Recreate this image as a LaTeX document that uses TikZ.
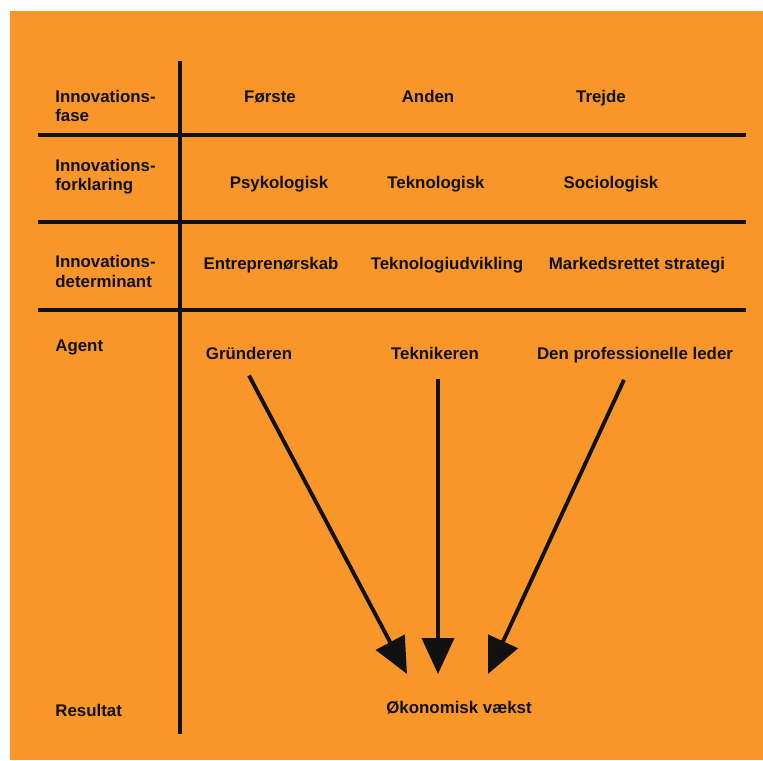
\documentclass[tikz,border=0pt]{standalone}
\usepackage{fontspec}
\setmainfont{Liberation Sans}
\usetikzlibrary{arrows.meta, positioning}
\definecolor{bgorange}{HTML}{F8962A}
\definecolor{ink}{HTML}{111111}
\tikzset{
  lbl/.style={anchor=base west, align=left, inner sep=0pt,
              font=\fontsize{9.6}{10.9}\selectfont\bfseries, text=ink},
  cell/.style={anchor=base, inner sep=0pt,
               font=\fontsize{9.6}{10.9}\selectfont\bfseries, text=ink},
  rule/.style={line width=2.2pt, draw=ink},
  pil/.style={-{Triangle[length=0.72cm, width=0.64cm]}, line width=2.2pt, draw=ink},
}
\begin{document}
\begin{tikzpicture}[x=0.02cm, y=-0.02cm]
    % baggrund
    \fill[white] (0,0) rectangle (763,760);
    \fill[bgorange] (10,11) rectangle (763,760);
    % tabel
    \draw[rule] (180,61) -- (180,734);
    \foreach \yy in {135,222,310} \draw[rule] (38,\yy) -- (746,\yy);
    % venstre kolonne
    \node[lbl] (fase) at (55,122) {Innovations-\\fase};
    \node[lbl] (forkl) at (55,191) {Innovations-\\forklaring};
    \node[lbl] (determ) at (55,287) {Innovations-\\determinant};
    \node[lbl] (agent) at (55,351) {Agent};
    \node[lbl] (res) at (55,716) {Resultat};
    % fase
    \node[cell] (f1) at (270,103) {Første};
    \node[cell] (f2) at (428,103) {Anden};
    \node[cell] (f3) at (601,103) {Trejde};
    % forklaring
    \node[cell] (k1) at (279,189) {Psykologisk};
    \node[cell] (k2) at (436,189) {Teknologisk};
    \node[cell] (k3) at (611,189) {Sociologisk};
    % determinant
    \node[cell] (d1) at (271,269) {Entreprenørskab};
    \node[cell] (d2) at (447,269) {Teknologiudvikling};
    \node[cell] (d3) at (637,269) {Markedsrettet strategi};
    % agenter
    \node[cell] (grund) at (249,359) {Gründeren};
    \node[cell] (tekn) at (435,359) {Teknikeren};
    \node[cell] (leder) at (635,359) {Den professionelle leder};
    % resultat
    \node[cell] (vaekst) at (459,713) {Økonomisk vækst};
    \coordinate (e1) at (407,674);
    \coordinate (e2) at (438,674);
    \coordinate (e3) at (488,674);
    \draw[pil] (grund.south) ++(0,16) -- (e1);
    \draw[pil] (tekn.south) ++(3,19) -- (e2);
    \draw[pil] (leder.south) ++(-11,17) -- (e3);
  \end{tikzpicture}
\end{document}
